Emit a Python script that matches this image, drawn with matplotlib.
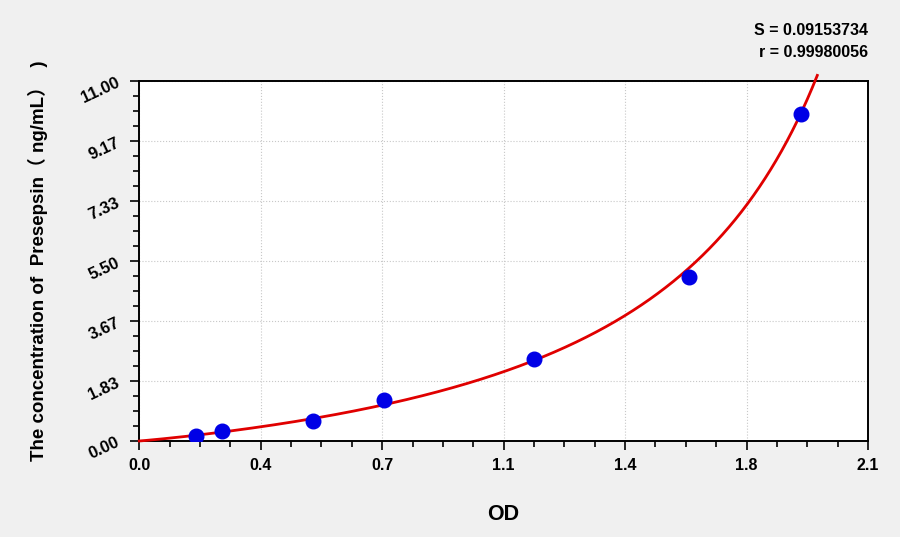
import numpy as np
import matplotlib
matplotlib.use("Agg")
import matplotlib.pyplot as plt
from matplotlib.ticker import AutoMinorLocator

# standard points (OD, concentration)
od = [0.164, 0.237, 0.502, 0.704, 1.137, 1.584, 1.907]
conc = [0.156, 0.312, 0.625, 1.25, 2.5, 5.0, 10.0]

x_ticks = [0.0, 0.35, 0.7, 1.05, 1.4, 1.75, 2.1]
x_labels = ["0.0", "0.4", "0.7", "1.1", "1.4", "1.8", "2.1"]
y_ticks = [0.0, 11 / 6, 11 / 3, 5.5, 22 / 3, 55 / 6, 11.0]
y_labels = ["0.00", "1.83", "3.67", "5.50", "7.33", "9.17", "11.00"]

s_text = "S = 0.09153734"
r_text = "r = 0.99980056"

plt.rcParams['font.family'] = ['Liberation Sans', 'Noto Sans CJK SC', 'DejaVu Sans']

fig = plt.figure(figsize=(9, 5.37), dpi=100, facecolor='#f0f0f0')
ax = fig.add_axes([0.1548, 0.1788, 0.8096, 0.6702])
ax.set_facecolor('white')

# inverse 4PL-type fit: y = c * (x / (d - x))^k, grid over d
xa = np.array(od)
ya = np.array(conc)
best = None
for d in np.linspace(1.95, 6, 2000):
    u = np.log(xa / (d - xa))
    k, lc = np.polyfit(u, np.log(ya), 1)
    err = np.sum((np.exp(lc) * np.exp(k * u) - ya) ** 2)
    if best is None or err < best[0]:
        best = (err, d, k, lc)
_, d, k, lc = best
xs = np.linspace(0, min(d - 1e-3, 2.1), 2000)
ys = np.exp(lc) * (xs / (d - xs)) ** k
keep = ys <= 11.18
ax.plot(xs[keep], ys[keep], color='#e00000', lw=2.0, clip_on=False, zorder=3)

ax.plot(od, conc, 'o', color='#0000e6', ms=10.5, zorder=4)

ax.set_xlim(0, 2.1)
ax.set_ylim(0, 11)
ax.set_xticks(x_ticks)
ax.set_xticklabels(x_labels, fontsize=11.5, fontweight='bold')
ax.set_yticks(y_ticks)
ax.set_yticklabels(y_labels, fontsize=12, fontweight='bold', rotation=25)
ax.xaxis.set_minor_locator(AutoMinorLocator(4))
ax.yaxis.set_minor_locator(AutoMinorLocator(4))
ax.tick_params(which='major', direction='out', length=6.5, width=1.2, pad=6)
ax.tick_params(which='minor', direction='out', length=4.5, width=1.2)
ax.tick_params(top=False, right=False)
ax.grid(True, which='major', color='#c8c8c8', ls=':', lw=0.8)

for sp in ax.spines.values():
    sp.set_linewidth(1.4)

ax.set_xlabel("OD", fontsize=15.5, fontweight='bold', labelpad=22)
ax.set_ylabel("The concentration of  Presepsin（ ng/mL）  )", fontsize=13.5,
              fontweight='bold', labelpad=22)

fig.text(0.9644, 0.944, s_text, ha='right', va='center', fontsize=11.5, fontweight='bold')
fig.text(0.9644, 0.903, r_text, ha='right', va='center', fontsize=11.5, fontweight='bold')

fig.savefig("out.png", dpi=100, facecolor=fig.get_facecolor())
